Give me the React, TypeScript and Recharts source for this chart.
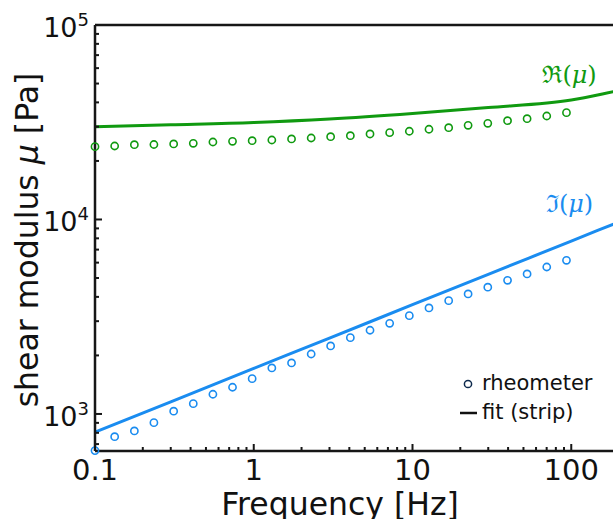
import { ComposedChart, Line, Scatter, XAxis, YAxis, Legend, ReferenceDot } from "recharts";

// rheometer sweep (Hz) and measured moduli (Pa)
const freqs = [0.1, 0.133, 0.177, 0.235, 0.313, 0.416, 0.553, 0.735, 0.977, 1.3, 1.73, 2.3, 3.05, 4.06, 5.4, 7.18, 9.55, 12.7, 16.9, 22.4, 29.8, 39.7, 52.7, 70.1, 93.3];
const realModulus = [23680, 23870, 24240, 24300, 24450, 24650, 25030, 25240, 25420, 25630, 25940, 26240, 26650, 26970, 27520, 27950, 28420, 29100, 29650, 30500, 31230, 32210, 32980, 34050, 35420];
const imagModulus = [648, 764, 818, 902, 1033, 1130, 1263, 1372, 1519, 1724, 1829, 2034, 2237, 2468, 2694, 2926, 3202, 3508, 3824, 4141, 4486, 4868, 5246, 5698, 6169];

// strip fit
const fitFreqs = [0.1, 0.3, 1, 3, 10, 30, 100, 200, 300];
const fitReal = [30000, 30690, 31530, 32860, 35080, 37650, 41160, 46050, 49130];
const fitImag = [806, 1155, 1714, 2455, 3645, 5225, 7745, 9720, 11100];

const xTicks = [0.1, 0.2, 0.3, 0.4, 0.5, 0.6, 0.7, 0.8, 0.9, 1, 2, 3, 4, 5, 6, 7, 8, 9, 10, 20, 30, 40, 50, 60, 70, 80, 90, 100, 200, 300];
const xMajor = [0.1, 1, 10, 100];
const xLabels = ["0.1", "1", "10", "100"];
const yTicks = [700, 800, 900, 1000, 2000, 3000, 4000, 5000, 6000, 7000, 8000, 9000, 10000, 20000, 30000, 40000, 50000, 60000, 70000, 80000, 90000, 100000];
const yMajor = [1000, 10000, 100000];
const yExp = ["3", "4", "5"];

const GREEN = "#109a10";
const BLUE = "#1a8cf0";
const AXIS = "#161616";
const FONT = '"DejaVu Sans", sans-serif';

const X_DOMAIN = [0.1, 300];
const Y_DOMAIN = [645, 100000];

const measured = freqs.map((f, i) => ({ f, re: realModulus[i], im: imagModulus[i] }));
const fit = fitFreqs.map((f, i) => ({ f, re: fitReal[i], im: fitImag[i] }));

const BottomTick = ({ x, y, payload }: any) => {
  const i = xMajor.indexOf(payload.value);
  return (
    <g>
      <line x1={x} x2={x} y1={y} y2={y - (i >= 0 ? 7 : 4)} stroke={AXIS} strokeWidth={2} />
      {i >= 0 && (
        <text x={x} y={y + 29} textAnchor="middle" fontSize={29} fontFamily={FONT} fill="#111">
          {xLabels[i]}
        </text>
      )}
    </g>
  );
};

const TopTick = ({ x, y, payload }: any) => {
  const major = xMajor.includes(payload.value);
  return <line x1={x} x2={x} y1={y} y2={y + (major ? 7 : 4)} stroke={AXIS} strokeWidth={2} />;
};

const LeftTick = ({ x, y, payload }: any) => {
  const i = yMajor.indexOf(payload.value);
  return (
    <g>
      <line x1={x} x2={x + (i >= 0 ? 7 : 4)} y1={y} y2={y} stroke={AXIS} strokeWidth={2} />
      {i >= 0 && (
        <text x={x - 6} y={y + 12} textAnchor="end" fontFamily={FONT} fill="#111">
          <tspan fontSize={27}>10</tspan>
          <tspan fontSize={18} dy={-11}>{yExp[i]}</tspan>
        </text>
      )}
    </g>
  );
};

const ring = (color: string) => (p: any) =>
  <circle cx={p.cx} cy={p.cy} r={3.6} fill="none" stroke={color} strokeWidth={1.6} />;

const seriesTag = (sym: string, color: string) => (p: any) => {
  const { x, y } = p.viewBox;
  return (
    <text x={x} y={y} textAnchor="middle" fontSize={24} fontFamily='"DejaVu Serif", serif' fill={color}>
      {sym}(<tspan fontStyle="italic">μ</tspan>)
    </text>
  );
};

const LegendBox = () => (
  <svg width={200} height={60} style={{ display: "block" }}>
    <circle cx={13} cy={16} r={3.6} fill="none" stroke="#0d2a4d" strokeWidth={1.5} />
    <text x={27} y={22} fontSize={21} fontFamily={FONT} fill="#111">rheometer</text>
    <line x1={5} x2={22} y1={45} y2={45} stroke="#111" strokeWidth={2.5} />
    <text x={27} y={51} fontSize={21} fontFamily={FONT} fill="#111">fit (strip)</text>
  </svg>
);

export default function App() {
  return (
    <div style={{ position: "absolute", left: 0, top: 0, width: 613, height: 519, overflow: "hidden", background: "#fff" }}>
      <ComposedChart width={661} height={519} margin={{ top: 0, right: 14, bottom: 0, left: 0 }}>
        <XAxis
          dataKey="f"
          type="number"
          scale="log"
          domain={X_DOMAIN}
          ticks={xTicks}
          interval={0}
          height={68}
          tickSize={0}
          tickMargin={0}
          tickLine={false}
          axisLine={{ stroke: AXIS, strokeWidth: 2.5 }}
          tick={<BottomTick />}
          label={{
            content: (p: any) => (
              <text x={p.viewBox.x + 245} y={p.viewBox.y + 64} textAnchor="middle" fontSize={31.5} fontFamily={FONT} fill="#111">
                Frequency [Hz]
              </text>
            ),
          }}
        />
        <XAxis
          xAxisId="top"
          orientation="top"
          type="number"
          scale="log"
          domain={X_DOMAIN}
          allowDataOverflow
          ticks={xTicks}
          interval={0}
          height={25}
          tickSize={0}
          tickMargin={0}
          tickLine={false}
          axisLine={{ stroke: AXIS, strokeWidth: 2.5 }}
          tick={<TopTick />}
        />
        <YAxis
          type="number"
          scale="log"
          domain={Y_DOMAIN}
          ticks={yTicks}
          interval={0}
          width={95}
          tickSize={0}
          tickMargin={0}
          tickLine={false}
          axisLine={{ stroke: AXIS, strokeWidth: 2.5 }}
          tick={<LeftTick />}
          label={{
            content: () => (
              <text x={38} y={240} transform="rotate(-90, 38, 240)" textAnchor="middle" fontSize={31.5} fontFamily={FONT} fill="#111">
                shear modulus <tspan fontStyle="italic">μ</tspan> [Pa]
              </text>
            ),
          }}
        />
        <Line data={fit} dataKey="re" type="monotone" stroke={GREEN} strokeWidth={3} dot={false} isAnimationActive={false} />
        <Line data={fit} dataKey="im" type="monotone" stroke={BLUE} strokeWidth={3} dot={false} isAnimationActive={false} />
        <Scatter data={measured} dataKey="re" shape={ring(GREEN)} isAnimationActive={false} />
        <Scatter data={measured} dataKey="im" shape={ring(BLUE)} isAnimationActive={false} />
        <ReferenceDot x={99} y={49750} r={1} fill="none" stroke="none" label={{ content: seriesTag("ℜ", GREEN) }} />
        <ReferenceDot x={99} y={10800} r={1} fill="none" stroke="none" label={{ content: seriesTag("ℑ", BLUE) }} />
        <Legend
          layout="vertical"
          align="center"
          verticalAlign="middle"
          content={() => <LegendBox />}
          wrapperStyle={{ left: 455, top: 368, width: 200 }}
        />
      </ComposedChart>
    </div>
  );
}
